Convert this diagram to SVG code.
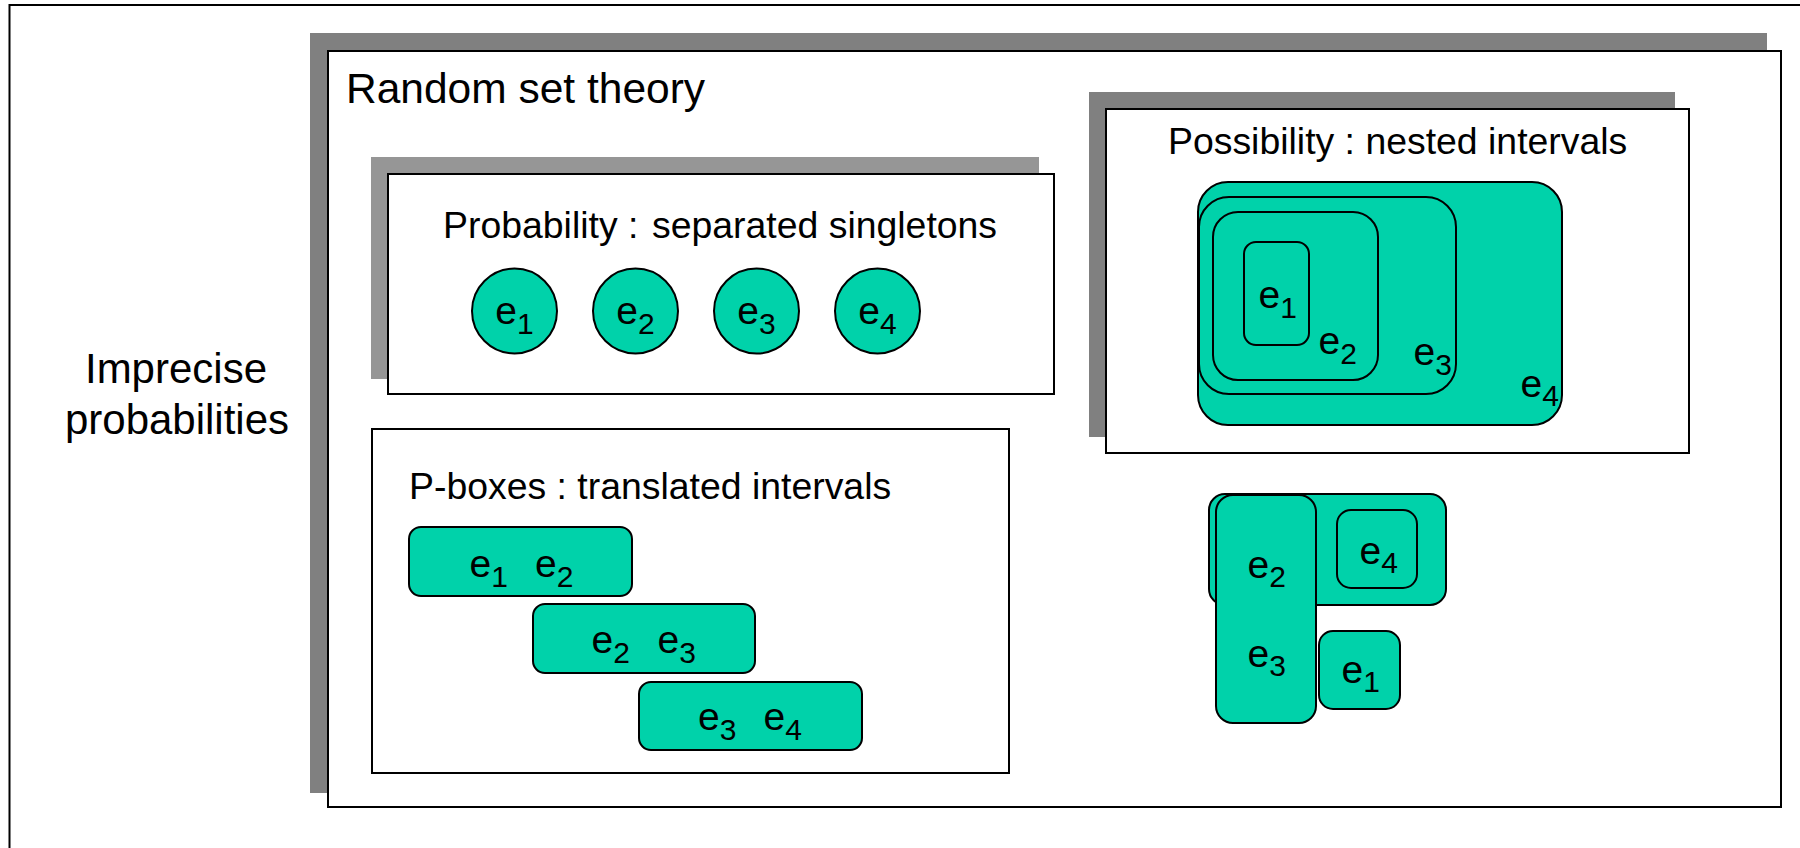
<svg xmlns="http://www.w3.org/2000/svg" width="1800" height="848" viewBox="0 0 1800 848">
  <style>
    text { font-family: "Liberation Sans", Arial, sans-serif; fill: #000; }
    .frame { fill: #fff; stroke: #000; stroke-width: 2; }
    .shadow { fill: #808080; }
    .shadow-light { fill: #969696; }
    .set { fill: #00D2AA; stroke: #000; stroke-width: 2; }
    .big { font-size: 42.5px; }
    .side { font-size: 42px; }
    .title { font-size: 37.4px; }
    .e { font-size: 39px; }
    .sub { font-size: 30px; }
  </style>

  <rect width="1800" height="848" fill="#fff"/>

  <!-- outer page frame -->
  <g id="page">
    <rect class="frame" x="9.5" y="5" width="1900" height="1000"/>
  </g>

  <g id="imprecise-probabilities">
    <text class="side" x="176" y="383" text-anchor="middle">Imprecise</text>
    <text class="side" x="177" y="434" text-anchor="middle">probabilities</text>
  </g>

  <!-- random set theory panel -->
  <g id="random-set-theory">
    <rect class="shadow" x="310" y="33" width="1457" height="760"/>
    <rect class="frame" x="328" y="51" width="1453" height="756"/>
    <text class="big" x="346" y="103">Random set theory</text>
  </g>

  <!-- probability: separated singletons -->
  <g id="probability">
    <rect class="shadow-light" x="371" y="157" width="668" height="222"/>
    <rect class="frame" x="388" y="174" width="666" height="220"/>
    <text class="title" x="443" y="238">Probability :</text>
    <text class="title" x="652" y="238">separated singletons</text>
    <g id="prob-e1">
      <circle class="set" cx="514.5" cy="311" r="42.5"/>
      <text class="e" x="514.5" y="324" text-anchor="middle">e<tspan class="sub" dy="10">1</tspan></text>
    </g>
    <g id="prob-e2">
      <circle class="set" cx="635.5" cy="311" r="42.5"/>
      <text class="e" x="635.5" y="324" text-anchor="middle">e<tspan class="sub" dy="10">2</tspan></text>
    </g>
    <g id="prob-e3">
      <circle class="set" cx="756.5" cy="311" r="42.5"/>
      <text class="e" x="756.5" y="324" text-anchor="middle">e<tspan class="sub" dy="10">3</tspan></text>
    </g>
    <g id="prob-e4">
      <circle class="set" cx="877.5" cy="311" r="42.5"/>
      <text class="e" x="877.5" y="324" text-anchor="middle">e<tspan class="sub" dy="10">4</tspan></text>
    </g>
  </g>

  <!-- possibility: nested intervals -->
  <g id="possibility">
    <rect class="shadow" x="1089" y="92" width="586" height="345"/>
    <rect class="frame" x="1106" y="109" width="583" height="344"/>
    <text class="title" x="1168" y="154">Possibility : nested intervals</text>
    <g id="poss-e4">
      <rect class="set" x="1198" y="182" width="364" height="243" rx="30"/>
      <text class="e" x="1520.5" y="397">e<tspan class="sub" dy="9">4</tspan></text>
    </g>
    <g id="poss-e3">
      <rect class="set" x="1199" y="197" width="257" height="197" rx="30"/>
      <text class="e" x="1413.5" y="365">e<tspan class="sub" dy="10">3</tspan></text>
    </g>
    <g id="poss-e2">
      <rect class="set" x="1213" y="212" width="165" height="168" rx="25"/>
      <text class="e" x="1318.5" y="354">e<tspan class="sub" dy="10">2</tspan></text>
    </g>
    <g id="poss-e1">
      <rect class="set" x="1244" y="242" width="65" height="103" rx="12"/>
      <text class="e" x="1258.5" y="308">e<tspan class="sub" dy="10">1</tspan></text>
    </g>
  </g>

  <!-- p-boxes: translated intervals -->
  <g id="p-boxes">
    <rect class="frame" x="372" y="429" width="637" height="344"/>
    <text class="title" x="409" y="499">P-boxes : translated intervals</text>
    <g id="pbox-e1-e2">
      <rect class="set" x="409" y="527" width="223" height="69" rx="12"/>
      <text class="e" x="469.5" y="577">e<tspan class="sub" dy="10">1</tspan></text>
      <text class="e" x="535" y="577">e<tspan class="sub" dy="10">2</tspan></text>
    </g>
    <g id="pbox-e2-e3">
      <rect class="set" x="533" y="604" width="222" height="69" rx="12"/>
      <text class="e" x="591.5" y="653">e<tspan class="sub" dy="10">2</tspan></text>
      <text class="e" x="657.5" y="653">e<tspan class="sub" dy="10">3</tspan></text>
    </g>
    <g id="pbox-e3-e4">
      <rect class="set" x="639" y="682" width="223" height="68" rx="12"/>
      <text class="e" x="698" y="730">e<tspan class="sub" dy="10">3</tspan></text>
      <text class="e" x="763.5" y="730">e<tspan class="sub" dy="10">4</tspan></text>
    </g>
  </g>

  <!-- general random set: overlapping focal sets -->
  <g id="general-sets">
    <g id="gen-e4">
      <rect class="set" x="1209" y="494" width="237" height="111" rx="16"/>
      <rect class="set" x="1337" y="510" width="80" height="78" rx="14"/>
      <text class="e" x="1359.5" y="564">e<tspan class="sub" dy="9">4</tspan></text>
    </g>
    <g id="gen-e2-e3">
      <rect class="set" x="1216" y="495" width="100" height="228" rx="17"/>
      <text class="e" x="1247.5" y="578">e<tspan class="sub" dy="9">2</tspan></text>
      <text class="e" x="1247.5" y="667">e<tspan class="sub" dy="9">3</tspan></text>
    </g>
    <g id="gen-e1">
      <rect class="set" x="1319" y="631" width="81" height="78" rx="14"/>
      <text class="e" x="1341.5" y="683">e<tspan class="sub" dy="9">1</tspan></text>
    </g>
  </g>
</svg>
